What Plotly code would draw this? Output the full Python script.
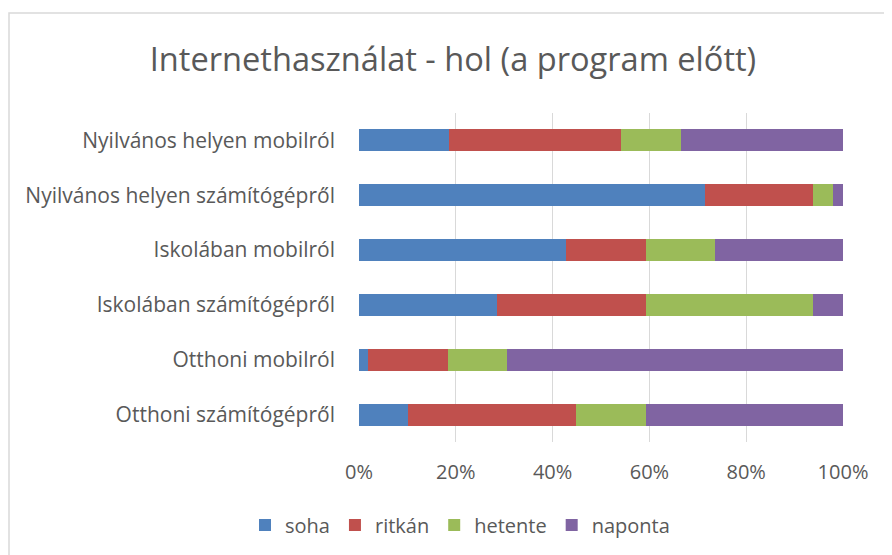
import plotly.graph_objects as go

categories = [
    "Nyilvános helyen mobilról",
    "Nyilvános helyen számítógépről",
    "Iskolában mobilról",
    "Iskolában számítógépről",
    "Otthoni mobilról",
    "Otthoni számítógépről",
]
soha = [18.6, 71.4, 42.7, 28.5, 1.9, 10.1]
ritkan = [35.6, 22.5, 16.5, 30.7, 16.4, 34.8]
hetente = [12.4, 4.0, 14.3, 34.7, 12.2, 14.3]
naponta = [33.4, 2.1, 26.5, 6.1, 69.5, 40.8]

series = [
    ("soha", soha, "#4F81BD"),
    ("ritkán", ritkan, "#C0504D"),
    ("hetente", hetente, "#9BBB59"),
    ("naponta", naponta, "#8064A2"),
]

FONT = "Open Sans"
GRAY = "#595959"

# page body has an 8px margin; compensate so the figure lands where the reference is
OFF = 8
W, H = 892 - OFF, 555 - OFF
PL, PR, PT, PB = 359, 843, 113, 442  # plot area in window pixels

fig = go.Figure()
for name, vals, color in series:
    fig.add_trace(go.Bar(
        y=categories, x=vals, name=name, orientation="h",
        marker=dict(color=color, line=dict(width=0)),
    ))

fig.update_layout(
    barmode="stack",
    bargap=0.6,
    width=W, height=H,
    margin=dict(l=PL - OFF, r=892 - PR, t=PT - OFF, b=555 - PB, pad=0),
    paper_bgcolor="white", plot_bgcolor="white",
    font=dict(family=FONT, color=GRAY, size=19),
    title=dict(
        text="Internethasználat - hol (a program előtt)",
        x=(453 - OFF) / W, xref="container", xanchor="center",
        y=1 - (60 - OFF) / H, yref="container", yanchor="middle",
        font=dict(family=FONT, size=32.6, color=GRAY),
    ),
    xaxis=dict(
        range=[0, 100], dtick=20, ticksuffix="%",
        showgrid=True, gridcolor="#D9D9D9", gridwidth=1,
        zeroline=False, showline=False, ticks="",
        ticklabelstandoff=16,
        tickfont=dict(size=20, color=GRAY),
        fixedrange=True,
    ),
    yaxis=dict(
        autorange="reversed", showgrid=False, zeroline=False,
        showline=False, ticks="", ticklabelstandoff=23,
        tickfont=dict(size=21, color=GRAY),
    ),
    legend=dict(
        orientation="h", xref="container", yref="container",
        x=(460 - OFF) / W, xanchor="center",
        y=1 - (525 - OFF) / H, yanchor="middle",
        font=dict(size=20, color=GRAY), traceorder="normal",
    ),
    showlegend=True,
)

pw, ph = PR - PL, PB - PT
fig.add_shape(type="rect", xref="paper", yref="paper",
              x0=(9 - PL) / pw, x1=(920 - PL) / pw,
              y0=(PB - 600) / ph, y1=1 + (PT - 13) / ph,
              line=dict(color="#D9D9D9", width=1.5), layer="below")

fig.write_html("out.html")
